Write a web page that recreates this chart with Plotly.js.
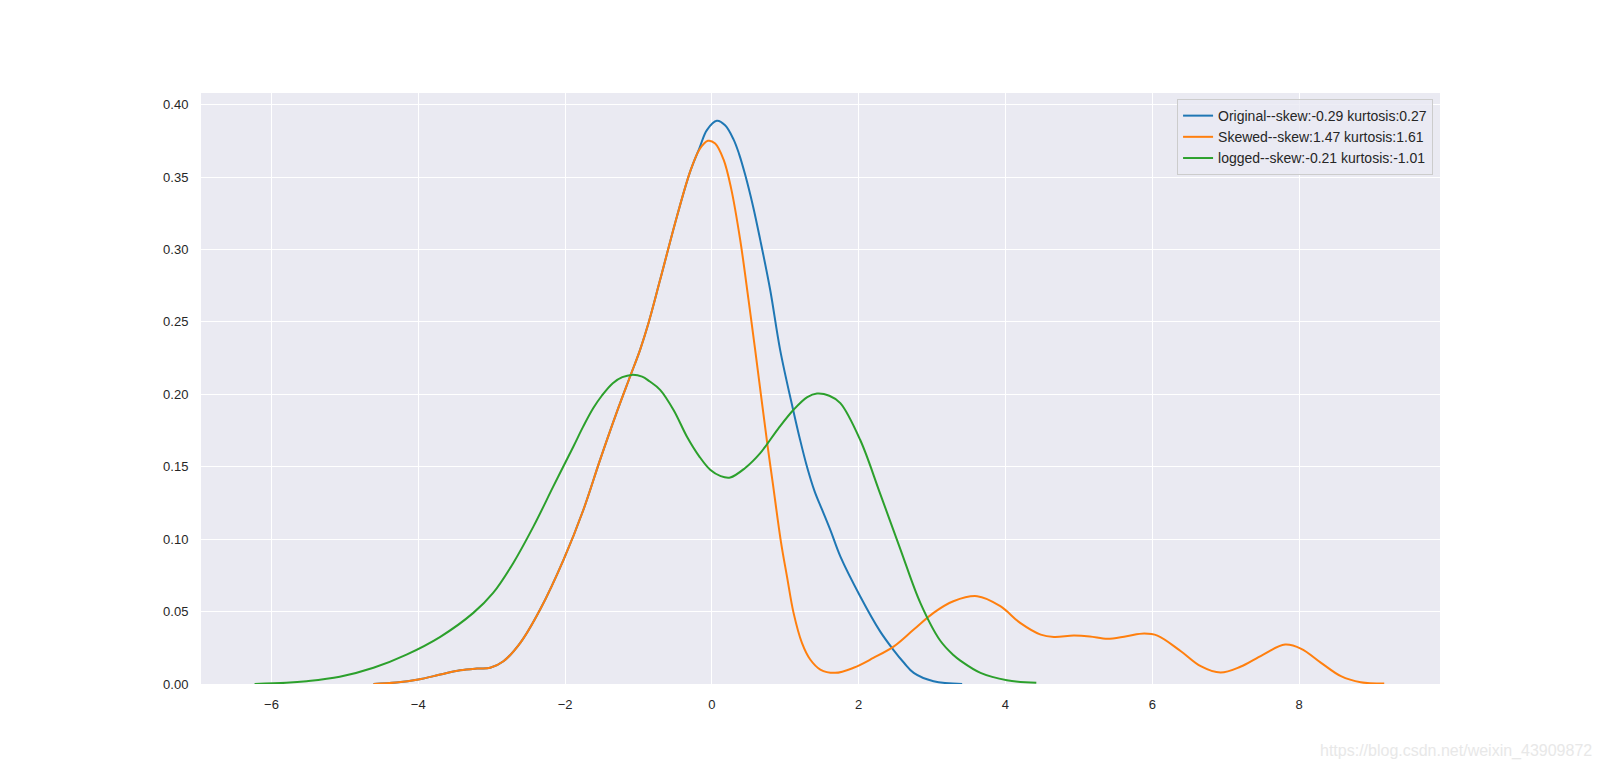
<!DOCTYPE html>
<html>
<head>
<meta charset="utf-8">
<script src="https://cdn.plot.ly/plotly-3.0.1.min.js"></script>
<style>html,body{margin:0;padding:0;background:#fff;}#chart{width:1600px;height:770px;}</style>
</head>
<body>
<div id="chart"></div>
<script>
// Original
const origX = [-4.61, -4.3, -4.0, -3.7, -3.43, -3.2, -3.02, -2.84, -2.61, -2.34, -2.02, -1.75, -1.53, -1.3, -1.114, -0.978, -0.864, -0.705, -0.477, -0.296, -0.169, -0.068, 0.068, 0.18, 0.295, 0.37, 0.454, 0.56, 0.659, 0.795, 0.93, 1.113, 1.2, 1.295, 1.4, 1.5, 1.62, 1.75, 2.02, 2.29, 2.47, 2.62, 2.75, 3.02, 3.41];
const origY = [0, 0.001, 0.0031, 0.0065, 0.0095, 0.0107, 0.0112, 0.0157, 0.0284, 0.0514, 0.0859, 0.1203, 0.1537, 0.187, 0.2123, 0.2307, 0.249, 0.279, 0.3226, 0.3537, 0.370, 0.3824, 0.3888, 0.3857, 0.376, 0.366, 0.3515, 0.330, 0.3066, 0.272, 0.2307, 0.188, 0.169, 0.1502, 0.133, 0.1205, 0.1055, 0.0881, 0.0606, 0.0365, 0.0238, 0.0145, 0.0077, 0.0019, 0];
// Skewed
const skewX = [-4.61, -4.3, -4.0, -3.7, -3.43, -3.2, -3.02, -2.84, -2.61, -2.34, -2.02, -1.75, -1.53, -1.3, -1.114, -0.978, -0.864, -0.705, -0.477, -0.296, -0.169, -0.055, 0.045, 0.16, 0.263, 0.386, 0.5, 0.59, 0.76, 0.83, 0.94, 1.023, 1.113, 1.227, 1.34, 1.477, 1.68, 1.93, 2.2, 2.48, 2.75, 3.02, 3.29, 3.614, 3.93, 4.2, 4.48, 4.66, 4.93, 5.15, 5.39, 5.65, 5.89, 6.07, 6.39, 6.66, 6.93, 7.2, 7.5, 7.81, 8.03, 8.30, 8.57, 8.84, 9.16];
const skewY = [0, 0.001, 0.0031, 0.0065, 0.0095, 0.0107, 0.0112, 0.0157, 0.0284, 0.0514, 0.0859, 0.1203, 0.1537, 0.187, 0.2123, 0.2307, 0.249, 0.279, 0.3226, 0.3537, 0.369, 0.375, 0.3732, 0.362, 0.342, 0.3066, 0.265, 0.2307, 0.164, 0.1387, 0.0985, 0.0743, 0.0491, 0.0284, 0.0169, 0.01, 0.0077, 0.0112, 0.018, 0.026, 0.0376, 0.0491, 0.0571, 0.0606, 0.0537, 0.0422, 0.0341, 0.0325, 0.0334, 0.0328, 0.0312, 0.033, 0.0348, 0.0334, 0.0226, 0.0123, 0.0079, 0.0119, 0.02, 0.0272, 0.0243, 0.0146, 0.0054, 0.0012, 0.0003];
// logged
const logX = [-6.23, -5.8, -5.52, -5.07, -4.61, -4.16, -3.70, -3.25, -2.98, -2.705, -2.43, -2.16, -1.886, -1.75, -1.615, -1.5, -1.35, -1.22, -1.09, -0.95, -0.85, -0.705, -0.52, -0.341, -0.17, -0.023, 0.12, 0.25, 0.45, 0.659, 0.9, 1.113, 1.3, 1.432, 1.6, 1.75, 2.02, 2.29, 2.57, 2.84, 3.11, 3.29, 3.39, 3.66, 4.02, 4.42];
const logY = [0, 0.0008, 0.0019, 0.005, 0.0112, 0.0203, 0.0326, 0.0491, 0.0629, 0.0836, 0.1088, 0.1364, 0.164, 0.178, 0.1905, 0.199, 0.2077, 0.2118, 0.2134, 0.2122, 0.209, 0.2031, 0.189, 0.1709, 0.157, 0.1479, 0.1435, 0.1426, 0.149, 0.1594, 0.176, 0.1893, 0.198, 0.2005, 0.199, 0.1939, 0.1686, 0.1318, 0.0928, 0.056, 0.030, 0.020, 0.016, 0.0077, 0.0026, 0.0008];

const seriesNames = ['Original--skew:-0.29 kurtosis:0.27', 'Skewed--skew:1.47 kurtosis:1.61', 'logged--skew:-0.21 kurtosis:-1.01'];
const xTicks = [-6, -4, -2, 0, 2, 4, 6, 8];
const yTicks = [0, 0.05, 0.10, 0.15, 0.20, 0.25, 0.30, 0.35, 0.40];

const mk = (x, y, name, color) => ({
  x: x, y: y, name: name, type: 'scatter', mode: 'lines',
  line: {color: color, width: 2, shape: 'spline', smoothing: 1.0},
  hoverinfo: 'skip'
});

const data = [
  mk(origX, origY, seriesNames[0], '#1f77b4'),
  mk(skewX, skewY, seriesNames[1], '#ff7f0e'),
  mk(logX, logY, seriesNames[2], '#2ca02c')
];

const font = {family: '"Liberation Sans", Arial, sans-serif', size: 13, color: '#262626'};

const layout = {
  width: 1600, height: 770,
  margin: {l: 201, r: 160, t: 93, b: 85.5, pad: 0},
  paper_bgcolor: '#ffffff',
  plot_bgcolor: '#eaeaf2',
  font: font,
  showlegend: true,
  xaxis: {
    range: [-6.96, 9.92], tickvals: xTicks, ticktext: xTicks.map(v => v < 0 ? '\u2212' + Math.abs(v) : String(v)),
    showgrid: true, gridcolor: '#ffffff', gridwidth: 1, zeroline: false, showline: false,
    ticks: 'outside', ticklen: 8, tickcolor: 'rgba(0,0,0,0)', tickfont: font
  },
  yaxis: {
    range: [0, 0.408], tickvals: yTicks, ticktext: yTicks.map(v => v.toFixed(2)),
    showgrid: true, gridcolor: '#ffffff', gridwidth: 1, zeroline: false, showline: false,
    ticks: 'outside', ticklen: 9, tickcolor: 'rgba(0,0,0,0)', tickfont: font
  },
  legend: {
    x: 0.9944, y: 0.9898, xanchor: 'right', yanchor: 'top',
    bgcolor: 'rgba(234,234,242,0.8)', bordercolor: '#cccccc', borderwidth: 1,
    font: {family: '"Liberation Sans", Arial, sans-serif', size: 14, color: '#262626'},
    itemwidth: 30, tracegroupgap: 0
  },
  annotations: [{
    xref: 'paper', yref: 'paper', x: 1.1243, y: -0.113, xanchor: 'right', yanchor: 'middle',
    text: 'https://blog.csdn.net/weixin_43909872', showarrow: false,
    font: {family: '"Liberation Sans", Arial, sans-serif', size: 16, color: '#e8e8e8'}
  }]
};

Plotly.newPlot('chart', data, layout, {displayModeBar: false, staticPlot: true});
</script>
</body>
</html>
